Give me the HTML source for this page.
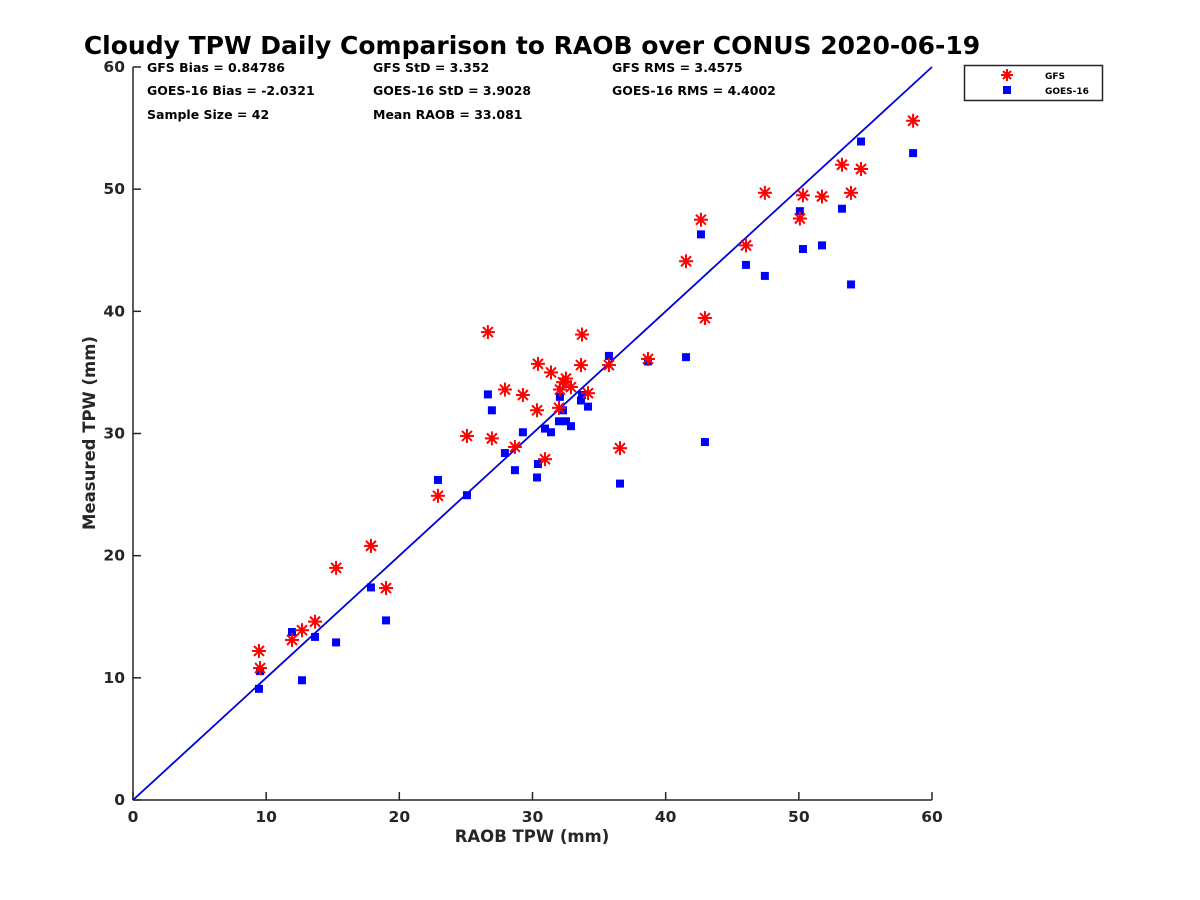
<!DOCTYPE html>
<html><head><meta charset="utf-8"><style>
html,body{margin:0;padding:0;background:#fff;}
svg{display:block;font-family:"DejaVu Sans","Liberation Sans",sans-serif;font-weight:bold;}
</style></head><body>
<svg id="chart" width="1200" height="900" viewBox="0 0 1200 900">
<text x="532" y="54" text-anchor="middle" font-size="25" fill="#000">Cloudy TPW Daily Comparison to RAOB over CONUS 2020-06-19</text>
<g font-size="12.5" fill="#000">
<text x="147" y="72">GFS Bias = 0.84786</text>
<text x="373" y="72">GFS StD = 3.352</text>
<text x="612" y="72">GFS RMS = 3.4575</text>
<text x="147" y="95">GOES-16 Bias = -2.0321</text>
<text x="373" y="95">GOES-16 StD = 3.9028</text>
<text x="612" y="95">GOES-16 RMS = 4.4002</text>
<text x="147" y="119">Sample Size = 42</text>
<text x="373" y="119">Mean RAOB = 33.081</text>
</g>
<g id="axes"></g>
<g id="marks"></g>
<g>
<rect x="964.5" y="65.5" width="138" height="35" fill="#fff" stroke="#262626" stroke-width="1.5"/>
<g stroke="#f00" stroke-width="2">
<line x1="1001" y1="75" x2="1013" y2="75"/><line x1="1007" y1="69" x2="1007" y2="81"/><line x1="1003" y1="71" x2="1011" y2="79"/><line x1="1011" y1="71" x2="1003" y2="79"/></g>
<rect x="1003" y="86" width="8" height="8" fill="#00f"/>
<text x="1045" y="79" font-size="9" fill="#000">GFS</text>
<text x="1045" y="94" font-size="9" fill="#000">GOES-16</text>
</g>
</svg>
<script>
const xTicks = [0,10,20,30,40,50,60];
const yTicks = [0,10,20,30,40,50,60];
const raob = [9.46,9.54,11.94,12.69,13.67,15.25,17.87,19.0,22.9,25.08,26.65,26.95,27.93,28.68,29.28,30.34,30.41,30.94,31.39,31.99,32.06,32.29,32.51,32.89,33.64,33.72,34.17,35.74,36.57,38.67,41.53,42.65,42.95,46.03,47.45,50.08,50.31,51.74,53.24,53.92,54.67,58.58];
const gfs = [12.2,10.8,13.1,13.9,14.6,19.0,20.8,17.35,24.9,29.8,38.3,29.6,33.6,28.9,33.15,31.9,35.7,27.9,35.0,32.1,33.6,34.2,34.5,33.8,35.6,38.1,33.3,35.6,28.8,36.1,44.1,47.5,39.45,45.4,49.7,47.6,49.5,49.4,52.0,49.7,51.65,55.6];
const goes = [9.1,10.55,13.75,9.8,13.35,12.9,17.4,14.7,26.2,24.95,33.2,31.9,28.4,27.0,30.1,26.4,27.5,30.4,30.1,31.0,33.0,31.9,31.0,30.6,32.7,33.15,32.2,36.35,25.9,35.9,36.25,46.3,29.3,43.8,42.9,48.2,45.1,45.4,48.4,42.2,53.9,52.95];

const X0=133,X1=932,Y0=800,Y1=67;
const sx=v=>X0+(v-0)/(60-0)*(X1-X0);
const sy=v=>Y0-(v-0)/(60-0)*(Y0-Y1);
const NS='http://www.w3.org/2000/svg';
function mk(tag,attrs,parent){const e=document.createElementNS(NS,tag);for(const k in attrs)e.setAttribute(k,attrs[k]);parent.appendChild(e);return e;}
const axes=document.getElementById('axes'), marks=document.getElementById('marks');

let l=mk('line',{x1:X0,y1:Y0,x2:X1,y2:Y0,stroke:'#262626','stroke-width':1.5},axes);


l=mk('line',{x1:X0,y1:Y0,x2:X0,y2:Y1,stroke:'#262626','stroke-width':1.5},axes);


xTicks.forEach(t=>{
  const tk=mk('line',{x1:sx(t),y1:Y0,x2:sx(t),y2:Y0-8,stroke:'#262626','stroke-width':1.5},axes);
  
  
  const tx=mk('text',{x:sx(t),y:Y0+22,'text-anchor':'middle','font-size':15.5,fill:'#262626'},axes);
  tx.textContent=t;
  
  
});
yTicks.forEach(t=>{
  const tk=mk('line',{x1:X0,y1:sy(t),x2:X0+8,y2:sy(t),stroke:'#262626','stroke-width':1.5},axes);
  
  
  const tx=mk('text',{x:X0-8,y:sy(t)+5,'text-anchor':'end','font-size':15.5,fill:'#262626'},axes);
  tx.textContent=t;
  
  
});
let t=mk('text',{x:532,y:842,'text-anchor':'middle','font-size':16.5,fill:'#262626'},axes);
t.textContent='RAOB TPW (mm)';


t=mk('text',{x:95,y:433,'text-anchor':'middle','font-size':16.5,fill:'#262626',transform:'rotate(-90 95 433)'},axes);
t.textContent='Measured TPW (mm)';



l=mk('line',{x1:sx(0),y1:sy(0),x2:sx(60),y2:sy(60),stroke:'#0000dd','stroke-width':1.8},marks);



raob.forEach((r,i)=>{
  const x=sx(r), y=sy(goes[i]);
  const s=mk('rect',{x:x-4,y:y-4,width:8,height:8,fill:'#00f'},marks);
  
  
});
raob.forEach((r,i)=>{
  const x=sx(r), y=sy(gfs[i]);
  const g=mk('g',{stroke:'#f00','stroke-width':2},marks);
  
  
  mk('line',{x1:x-7,y1:y,x2:x+7,y2:y},g);
  mk('line',{x1:x,y1:y-7,x2:x,y2:y+7},g);
  mk('line',{x1:x-5,y1:y-5,x2:x+5,y2:y+5},g);
  mk('line',{x1:x+5,y1:y-5,x2:x-5,y2:y+5},g);
});
</script>
</body></html>
